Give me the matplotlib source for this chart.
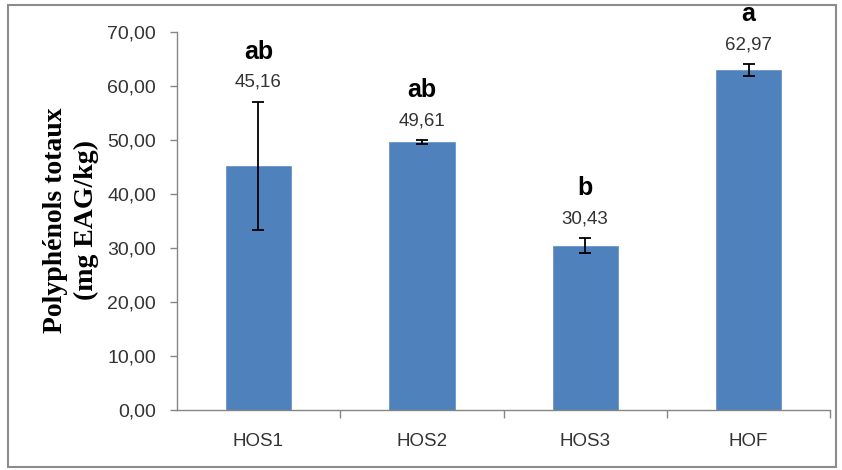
import numpy as np
import matplotlib
matplotlib.use("Agg")
import matplotlib.pyplot as plt
from matplotlib.patches import Rectangle

categories = ["HOS1", "HOS2", "HOS3", "HOF"]
values = [45.16, 49.61, 30.43, 62.97]
errors = [11.9, 0.3, 1.4, 1.1]
letters = ["ab", "ab", "b", "a"]
yticks = [0, 10, 20, 30, 40, 50, 60, 70]

sans = ["Liberation Sans", "DejaVu Sans"]
serif = ["Liberation Serif", "DejaVu Serif"]

fig = plt.figure(figsize=(8.42, 4.70), dpi=100)
ax = fig.add_axes([0.210, 0.128, 0.776, 0.804])

x = np.arange(len(categories))
ax.bar(x, values, width=0.4, color="#4F81BD", edgecolor="#6A95C9", linewidth=0.6, zorder=2)
ax.errorbar(x, values, yerr=errors, fmt="none", ecolor="black", elinewidth=1.3,
            capsize=4, capthick=1.3, zorder=3)

for xi, v, e, lab in zip(x, values, errors, letters):
    top = v + e
    ax.annotate(f"{v:.2f}".replace(".", ","), (xi, top), xytext=(0, 14),
                textcoords="offset points", ha="center", va="center",
                fontsize=13.5, family=sans, color="#333333")
    ax.annotate(lab, (xi, top), xytext=(0, 36), textcoords="offset points",
                ha="center", va="center", fontsize=18, fontweight="bold",
                family=sans, color="black")

ax.set_xlim(-0.5, 3.5)
ax.set_ylim(0, 70)
ax.set_yticks(yticks)
ax.set_yticklabels([f"{t:.2f}".replace(".", ",") for t in yticks],
                   fontsize=14, family=sans, color="#333333")
ax.set_xticks(x)
ax.set_xticklabels(categories, fontsize=13.5, family=sans, color="#333333")
ax.tick_params(axis="x", length=0, pad=17)
ax.tick_params(axis="y", length=5, color="#868686", width=1, pad=10)
ax.set_xticks([0.5, 1.5, 2.5, 3.5], minor=True)
ax.tick_params(axis="x", which="minor", length=6, color="#868686", width=1)

for s in ["top", "right"]:
    ax.spines[s].set_visible(False)
for s in ["left", "bottom"]:
    ax.spines[s].set_color("#868686")
    ax.spines[s].set_linewidth(1)

fig.text(0.066, 0.532, "Polyphénols totaux", rotation=90, ha="center", va="center",
         fontsize=20, fontweight="bold", family=serif)
fig.text(0.103, 0.532, "(mg EAG/kg)", rotation=90, ha="center", va="center",
         fontsize=20, fontweight="bold", family=serif)

fig.patches.append(Rectangle((0.009, 0.006), 0.984, 0.983, transform=fig.transFigure,
                             fill=False, edgecolor="#8C8C8C", linewidth=1.5))

fig.savefig("out.png", dpi=100)
